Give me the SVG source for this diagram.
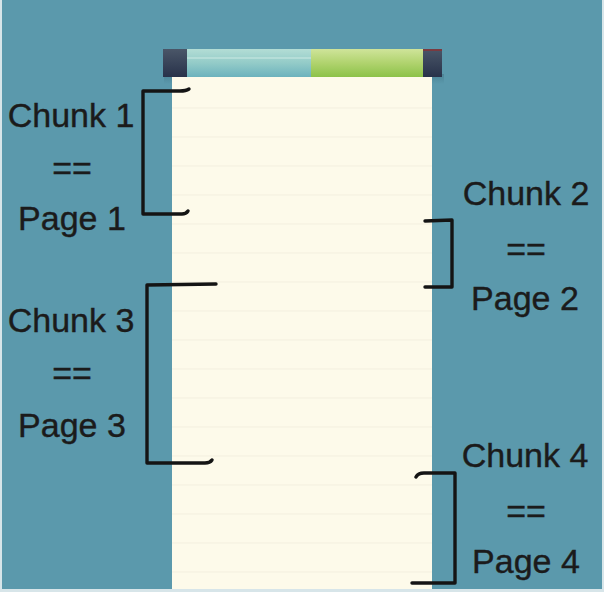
<svg xmlns="http://www.w3.org/2000/svg" width="604" height="592" viewBox="0 0 604 592">
<defs>
<linearGradient id="tealBar" x1="0" y1="0" x2="0" y2="1">
<stop offset="0" stop-color="#b3ddd5"/>
<stop offset="0.5" stop-color="#93cbc8"/>
<stop offset="1" stop-color="#6cb2bd"/>
</linearGradient>
<linearGradient id="greenBar" x1="0" y1="0" x2="0" y2="1">
<stop offset="0" stop-color="#cfe49a"/>
<stop offset="0.5" stop-color="#b0d36e"/>
<stop offset="1" stop-color="#8cc249"/>
</linearGradient>
<linearGradient id="capBar" x1="0" y1="0" x2="0" y2="1">
<stop offset="0" stop-color="#4a5668"/>
<stop offset="1" stop-color="#28324a"/>
</linearGradient>
<linearGradient id="shadow" x1="0" y1="0" x2="0" y2="1">
<stop offset="0" stop-color="#3e6f80" stop-opacity="0.5"/>
<stop offset="1" stop-color="#3e6f80" stop-opacity="0"/>
</linearGradient>
</defs>
<style>
.lbl{font-family:"Liberation Sans",Arial,sans-serif;font-size:34px;fill:#1b1b1b;stroke:#1b1b1b;stroke-width:0.4;text-anchor:middle}
.br{fill:none;stroke:#141414;stroke-width:3.4;stroke-linecap:round;stroke-linejoin:round}
.rule{stroke:#f3efdf;stroke-width:1}
</style>
<rect x="0" y="0" width="604" height="592" fill="#d7e5e9"/>
<rect x="2" y="0" width="600" height="589" fill="#5b99ac"/>
<g id="paper">
<rect x="164" y="74" width="280" height="10" fill="url(#shadow)"/>
<rect x="172" y="77" width="260" height="512" fill="#fdfaea"/>
<g class="rule">
<line x1="172" y1="108" x2="432" y2="108"/>
<line x1="172" y1="137" x2="432" y2="137"/>
<line x1="172" y1="166" x2="432" y2="166"/>
<line x1="172" y1="195" x2="432" y2="195"/>
<line x1="172" y1="224" x2="432" y2="224"/>
<line x1="172" y1="253" x2="432" y2="253"/>
<line x1="172" y1="282" x2="432" y2="282"/>
<line x1="172" y1="311" x2="432" y2="311"/>
<line x1="172" y1="340" x2="432" y2="340"/>
<line x1="172" y1="369" x2="432" y2="369"/>
<line x1="172" y1="398" x2="432" y2="398"/>
<line x1="172" y1="427" x2="432" y2="427"/>
<line x1="172" y1="456" x2="432" y2="456"/>
<line x1="172" y1="485" x2="432" y2="485"/>
<line x1="172" y1="514" x2="432" y2="514"/>
<line x1="172" y1="543" x2="432" y2="543"/>
<line x1="172" y1="572" x2="432" y2="572"/>
</g>
</g>
<g id="bar">
<rect x="163" y="49" width="24" height="28" fill="url(#capBar)"/>
<rect x="187" y="49" width="124" height="28" fill="url(#tealBar)"/>
<rect x="187" y="57" width="124" height="2" fill="#c4e6df" opacity="0.6"/>
<rect x="311" y="49" width="112" height="28" fill="url(#greenBar)"/>
<rect x="423" y="49" width="19" height="28" fill="url(#capBar)"/>
<rect x="423" y="49" width="19" height="2" fill="#7a3a40"/>
</g>
<g id="connectors">
<path class="br" d="M189,89 Q186,91 180,91 L143,91 L143,214 L182,214 Q186,214 188,211"/>
<path class="br" d="M216,284 L147,285 L147,463 L205,463 Q210,463 212,460"/>
<path class="br" d="M425,221 L452,220 L452,287 L425,287"/>
<path class="br" d="M416,477 Q418,473 424,473 L455,473 L455,583 L412,583"/>
</g>
<g id="chunk1">
<text class="lbl" x="71" y="127">Chunk 1</text>
<text class="lbl" x="72" y="180">==</text>
<text class="lbl" x="72" y="230">Page 1</text>
</g>
<g id="chunk2">
<text class="lbl" x="526" y="205">Chunk 2</text>
<text class="lbl" x="526" y="261">==</text>
<text class="lbl" x="525" y="310">Page 2</text>
</g>
<g id="chunk3">
<text class="lbl" x="71" y="332">Chunk 3</text>
<text class="lbl" x="72" y="385">==</text>
<text class="lbl" x="72" y="437">Page 3</text>
</g>
<g id="chunk4">
<text class="lbl" x="525" y="467">Chunk 4</text>
<text class="lbl" x="526" y="523">==</text>
<text class="lbl" x="526" y="573">Page 4</text>
</g>
</svg>
